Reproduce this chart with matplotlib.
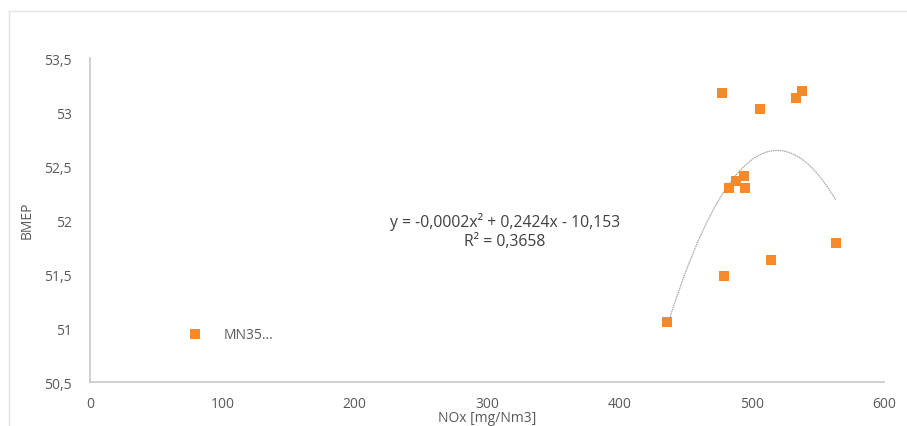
import numpy as np
import matplotlib
matplotlib.use("Agg")
import matplotlib.pyplot as plt
from matplotlib.lines import Line2D

# Data
nox = [477.3, 506.1, 533.5, 538.3, 483.1, 488.2, 494.2, 495.0, 563.5, 514.6, 479.3, 436.3]
bmep = [53.18, 53.03, 53.13, 53.19, 52.30, 52.36, 52.41, 52.30, 51.79, 51.63, 51.48, 51.06]
series_name = "MN35..."
x_ticks = [0, 100, 200, 300, 400, 500, 600]
y_ticks = [50.5, 51, 51.5, 52, 52.5, 53, 53.5]
y_tick_labels = ["50,5", "51", "51,5", "52", "52,5", "53", "53,5"]
eq_line1 = "y = -0,0002x² + 0,2424x - 10,153"
eq_line2 = "R² = 0,3658"

plt.rcParams['font.family'] = ['Open Sans', 'DejaVu Sans']

W, H = 907, 427
fig = plt.figure(figsize=(W/100, H/100), dpi=100)
ax = fig.add_axes([90/W, 1-383/H, (884-90)/W, (383-59)/H])

orange = '#F68A2B'
ax.scatter(nox, bmep, marker='s', s=44, color=orange, linewidths=0, zorder=3)

# polynomial trendline
coef = np.polyfit(nox, bmep, 2)
xs = np.linspace(min(nox), max(nox), 200)
ax.plot(xs, np.polyval(coef, xs), color='#a6a6a6', lw=0.9, ls=(0, (1.2, 0.6)), zorder=2)

ax.set_xlim(0, 600)
ax.set_ylim(50.5, 53.5)
ax.set_xticks(x_ticks)
ax.set_yticks(y_ticks)
ax.set_yticklabels(y_tick_labels)
ax.tick_params(length=0, labelsize=10, colors='#595959', pad=10)
ax.tick_params(axis='y', pad=13)
for s in ['top', 'right']:
    ax.spines[s].set_visible(False)
for s in ['left', 'bottom']:
    ax.spines[s].set_color('#c8c8c8')
    ax.spines[s].set_linewidth(1.2)

fig.text(27/W, 1-220/H, "BMEP", rotation=90, ha='center', va='center',
         fontsize=10, color='#595959')
fig.text(487/W, 1-419/H, "NOx [mg/Nm3]", ha='center', va='center',
         fontsize=10, color='#595959')

fig.text(505/W, 1-222/H, eq_line1, ha='center', va='center', fontsize=11.3, color='#404040')
fig.text(505/W, 1-242/H, eq_line2, ha='center', va='center', fontsize=11.3, color='#404040')

# legend inside plot
handle = Line2D([], [], marker='s', color=orange, ls='none', markersize=6.6, markeredgewidth=0)
fig.legend([handle], [series_name], loc='center left', bbox_to_anchor=(188/W, 1-336/H),
           frameon=False, fontsize=10, labelcolor='#595959', handletextpad=1.6,
           handlelength=1.0, borderpad=0, borderaxespad=0)

# chart border
fig.add_artist(Line2D([9/W, 9/W], [0, 1-12/H], transform=fig.transFigure, color='#e3e3e3', lw=1))
fig.add_artist(Line2D([9/W, 1], [1-12/H, 1-12/H], transform=fig.transFigure, color='#e3e3e3', lw=1))

fig.savefig("out.png", dpi=100)
